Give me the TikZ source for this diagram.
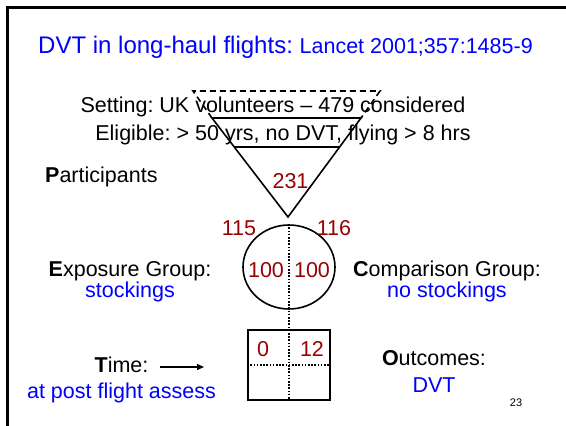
\documentclass[tikz,border=0pt]{standalone}
\usepackage{fontspec}
\setmainfont{Liberation Sans}
\usetikzlibrary{shapes.geometric,arrows.meta}
\definecolor{nred}{RGB}{153,0,0}
\definecolor{nblue}{RGB}{0,0,255}
\frenchspacing
\tikzset{
  body/.style={font=\fontsize{21.5}{25}\selectfont, inner sep=0pt, anchor=base},
  num/.style={body, text=nred},
  sline/.style={line width=1.6pt, line join=miter},
  dline/.style={line width=1.6pt, dash pattern=on 6pt off 4pt},
  dotline/.style={line width=1.6pt, dash pattern=on 1.6pt off 1.6pt},
}
\begin{document}
\begin{tikzpicture}[x=1pt,y=-1pt]
\useasboundingbox (0,0) rectangle (566,426);
% frame
\draw[line width=2.5pt] (7.5,426) -- (7.5,7.5) -- (566,7.5);
% title
\node[anchor=base west, inner sep=0pt, text=nblue, font=\fontsize{24}{29}\selectfont] (title) at (38,53)
  {DVT in long-haul flights: {\fontsize{21.5}{25}\selectfont Lancet 2001;357:1485-9}};
% funnel
\coordinate (t1) at (193,91);
\coordinate (t2) at (380,91);
\coordinate (m1) at (212,118);
\coordinate (m2) at (361,118);
\coordinate (l1) at (234,147);
\coordinate (l2) at (340,147);
\coordinate (apex) at (288,217);
\draw[dline] (m1) -- (t1) -- (t2) -- (m2);
\draw[sline] (m1) -- (m2) -- (apex) -- cycle;
\draw[sline] (l1) -- (l2);
% setting texts
\node[body] (setting) at (273,112) {Setting: UK volunteers -- 479 considered};
\node[body] (elig) at (283,140) {Eligible: > 50 yrs, no DVT, flying > 8 hrs};
\node[num] (n231) at (290.5,188) {231};
\node[body, anchor=base west] (part) at (45,182) {\textbf{P}articipants};
% group ellipse
\node[draw, sline, ellipse, minimum width=92pt, minimum height=84pt, inner sep=0pt] (grp) at (289,267) {};
\node[num] (n115) at (239,235) {115};
\node[num] (n116) at (334,235) {116};
\node[num] (n100a) at (266,277) {100};
\node[num] (n100b) at (312,277) {100};
% outcome box
\node[draw, sline, minimum width=82pt, minimum height=70pt, inner sep=0pt] (box) at (289,365) {};
\draw[dotline] (grp.north) -- (box.south);
\draw[dotline] (box.west) -- (box.east);
\node[num] (n0) at (263,356) {0};
\node[num] (n12) at (312,356) {12};
% side labels
\node[body] (expo) at (130,276) {\textbf{E}xposure Group:};
\node[body, text=nblue] (stock) at (130,297) {stockings};
\node[body] (comp) at (447,276) {\textbf{C}omparison Group:};
\node[body, text=nblue] (nostock) at (447,297) {no stockings};
\node[body] (time) at (121.5,372) {\textbf{T}ime:};
\node[body, text=nblue] (post) at (121.5,398) {at post flight assess};
\coordinate (arrS) at (160,367);
\coordinate (arrE) at (204,367);
\draw[line width=1.4pt, -{Triangle[length=7pt,width=6pt]}] (arrS) -- (arrE);
\node[body] (outc) at (434,365) {\textbf{O}utcomes:};
\node[body, text=nblue] (dvt) at (434,392) {DVT};
\node[inner sep=0pt, anchor=base, font=\fontsize{11}{13}\selectfont] (pg) at (516,406) {23};
\end{tikzpicture}
\end{document}
